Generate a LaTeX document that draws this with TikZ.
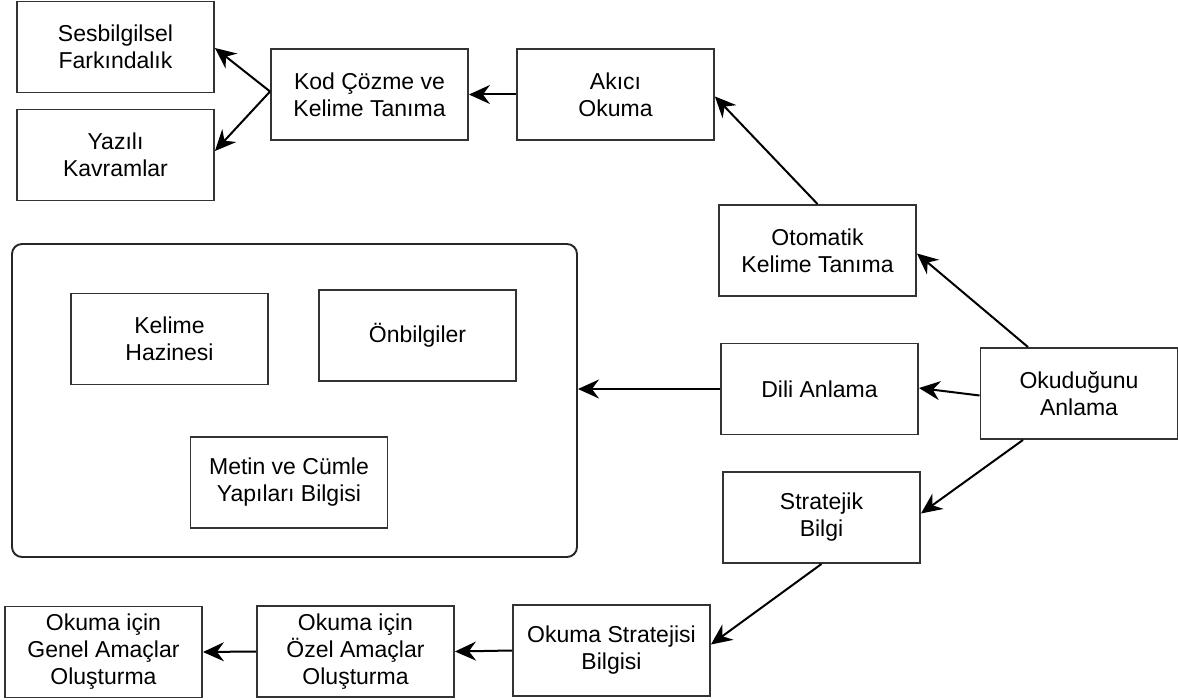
\documentclass[tikz,border=0pt]{standalone}
\usepackage{fontspec}
\setmainfont{Liberation Sans}
\usetikzlibrary{arrows.meta,calc}
\begin{document}
\begin{tikzpicture}[x=1pt,y=-1pt,
  box/.style={draw=black!80, line width=1.9pt, minimum width=197pt, minimum height=91pt,
    inner sep=0pt, align=center, font=\fontsize{23}{27}\selectfont},
  group/.style={draw=black!85, line width=1.9pt, rounded corners=10pt, minimum width=565pt,
    minimum height=313pt, inner sep=0pt},
  conn/.style={line width=2pt, draw=black, -{Stealth[length=21pt,width=19pt,inset=7pt]}}]
\useasboundingbox (0,0) rectangle (1178,700);

\node[box] (ses) at (115.5,47) {Sesbilgilsel\\Farkındalık};
\node[box] (yaz) at (115.5,155) {Yazılı\\Kavramlar};
\node[box] (kod) at (369.5,94.5) {Kod Çözme ve\\Kelime Tanıma};
\node[box] (akici) at (615.5,94.5) {Akıcı\\Okuma};
\node[box] (oto) at (817.5,250.5) {Otomatik\\Kelime Tanıma};

\node[group] (big) at (294.5,400.5) {};
\node[box] (kel) at (169.5,339) {Kelime\\Hazinesi};
\node[box] (onb) at (417.5,335.5) {Önbilgiler};
\node[box] (met) at (289,482.5) {Metin ve Cümle\\Yapıları Bilgisi};

\node[box] (dili) at (819.5,389) {Dili Anlama};
\node[box] (oku) at (1079,393.5) {Okuduğunu\\Anlama};
\node[box] (str) at (821.5,517.5) {Stratejik\\Bilgi};

\node[box] (oks) at (611.5,650.5) {Okuma Stratejisi\\Bilgisi};
\node[box] (ozel) at (355.5,651.5) {Okuma için\\Özel Amaçlar\\Oluşturma};
\node[box] (gen) at (103.5,652) {Okuma için\\Genel Amaçlar\\Oluşturma};

\draw[conn] ([yshift=3pt]kod.west) -- ([yshift=-1pt]ses.east);
\draw[conn] ([yshift=3pt]kod.west) -- ([yshift=4pt]yaz.east);
\draw[conn] (akici.west) -- (kod.east);
\draw[conn] (oto.north) -- ([yshift=-2pt]akici.east);
\draw[conn] ([xshift=-51pt]oku.north) -- ([yshift=-3pt]oto.east);
\draw[conn] ([yshift=-2pt]oku.west) -- ([yshift=1pt]dili.east);
\draw[conn] (dili.west) -- (big.east |- dili.west);
\draw[conn] ([xshift=-56pt]oku.south) -- ([yshift=4pt]str.east);
\draw[conn] (str.south) -- ([yshift=6pt]oks.east);
\draw[conn] (oks.west) -- (ozel.east);
\draw[conn] (ozel.west) -- (gen.east);
\end{tikzpicture}
\end{document}
